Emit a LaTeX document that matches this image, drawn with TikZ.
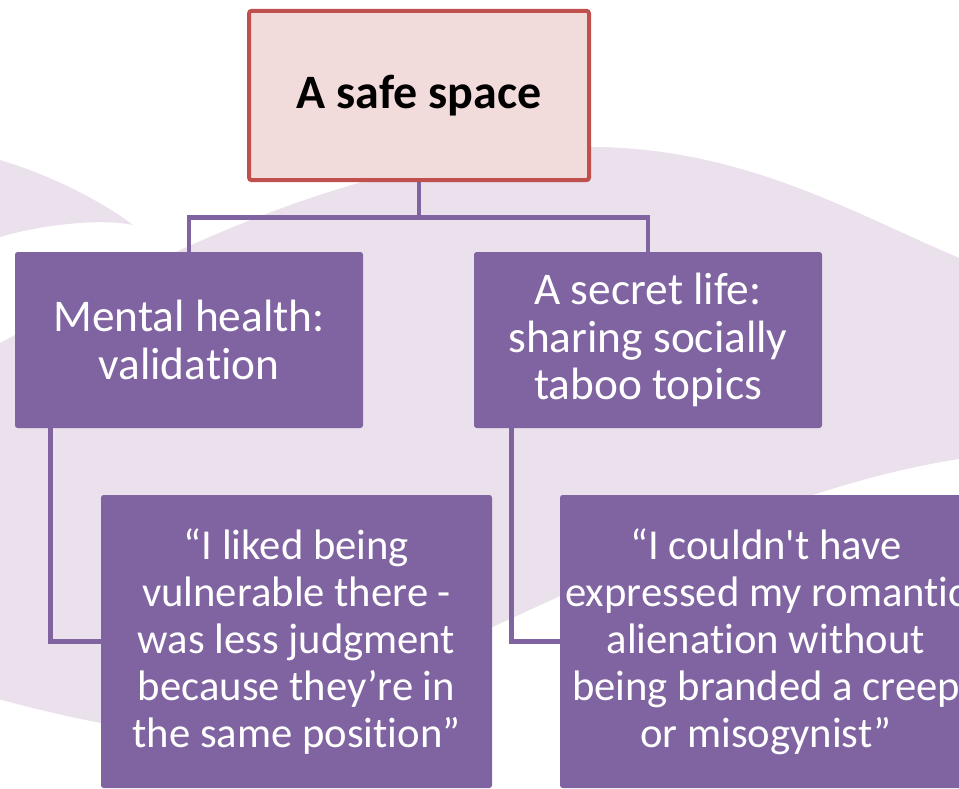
\documentclass[tikz,border=0pt]{standalone}
\usepackage{fontspec}
\newfontfamily\calibri{Carlito}[Ligatures=NoCommon]
\usepackage{tikz}

\definecolor{swoosh}{RGB}{235,225,236}
\definecolor{topicpurple}{RGB}{128,100,162}
\definecolor{rootred}{RGB}{192,80,77}
\definecolor{rootpink}{RGB}{242,220,219}

\begin{document}
\begin{tikzpicture}[x=0.75pt, y=-0.75pt]
    % Define styles
    \tikzstyle{root} = [draw=rootred, line width=3pt, fill=rootpink, rounded corners=2pt,
        minimum width=255pt, minimum height=127pt, align=center,
        font=\calibri\fontsize{36}{40}\selectfont\bfseries]
    \tikzstyle{topic} = [fill=topicpurple, rounded corners=2pt, text=white,
        minimum width=261pt, minimum height=132pt, align=center,
        font=\calibri\fontsize{34}{35.6}\selectfont]
    \tikzstyle{quote} = [fill=topicpurple, rounded corners=2pt, text=white,
        minimum height=219.75pt, align=center,
        font=\calibri\fontsize{32}{35.25}\selectfont]
    \tikzstyle{link} = [draw=topicpurple, line width=3.7pt]

    \path[use as bounding box] (0,0) rectangle (959,788);
    \clip (0,0) rectangle (959,788);

    % Background swoosh
    \fill[swoosh] (0,343) .. controls (100,290) and (330,150) .. (590,147)
        .. controls (760,147) and (880,230) .. (990,270)
        -- (990,455) .. controls (750,480) and (450,660) .. (250,733)
        .. controls (150,740) and (60,715) .. (-10,697)
        -- (-10,350) -- cycle;
    \fill[swoosh] (-10,156) -- (0,160) .. controls (50,175) and (100,200) .. (133,225)
        .. controls (100,218) and (40,225) .. (0,237) -- (-10,240) -- cycle;

    % Boxes
    \node[root] (safe) at (419,95.5) {A safe space};
    \node[topic] (mental) at (189,340) {Mental health:\\validation};
    \node[topic] (secret) at (648,340) {A secret life:\\sharing socially\\taboo topics};
    \node[quote, minimum width=293.25pt] (quoteA) at (296.5,641.5)
        {“I liked being\\vulnerable there -\\was less judgment\\because they’re in\\the same position”};
    \node[quote, minimum width=309pt] (quoteB) at (766,641.5)
        {“I couldn't have\\expressed my romantic\\alienation without\\being branded a creep\\or misogynist”};

    % Connectors
    \draw[link] (safe.south) -- ++(0,35) -| (mental.north);
    \draw[link] (safe.south) -- ++(0,35) -| (secret.north);
    \draw[link] ([xshift=27pt]mental.south west) |- (quoteA.west);
    \draw[link] ([xshift=28pt]secret.south west) |- (quoteB.west);
\end{tikzpicture}
\end{document}
